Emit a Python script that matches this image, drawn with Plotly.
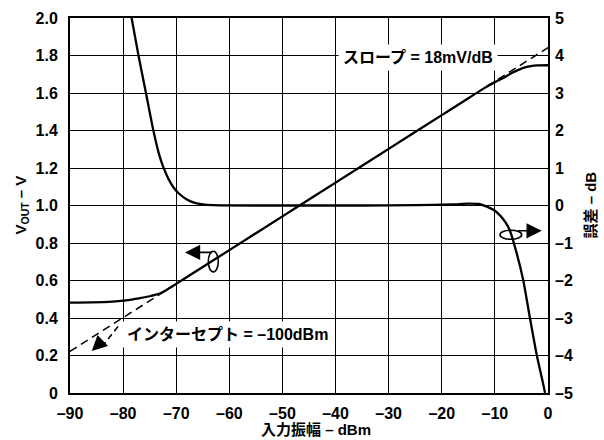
import plotly.graph_objects as go

# Input level (dBm) and measured output voltage (V)
VOUT_DBM = [-90, -86, -82, -79, -77, -75, -74, -73, -72, -70, -65, -60, -50, -40, -30,
            -20, -15, -12, -10, -9, -8, -7, -6, -5, -4, -3, -2, 0]
VOUT_V = [0.482, 0.483, 0.487, 0.495, 0.505, 0.516, 0.523, 0.532, 0.547, 0.582, 0.672,
          0.762, 0.942, 1.122, 1.302, 1.482, 1.572, 1.626, 1.658, 1.672, 1.687, 1.704,
          1.718, 1.730, 1.739, 1.745, 1.747, 1.748]

# Ideal transfer line (18 mV/dB)
IDEAL_DBM = [-90, 0]
IDEAL_V = [0.222, 1.842]

# Log-conformance error (dB)
ERR_DBM = [-79.0, -78.4, -77.1, -75.7, -74.3, -73.2, -72.5, -71.5, -70.5, -69.5, -68,
           -66.5, -65, -63, -55, -45, -35, -25, -18, -15, -13, -11.5, -10, -9, -8,
           -7.2, -5.9, -4.65, -3.4, -2.1, -0.56, -0.3]
ERR_DB = [5.45, 5.0, 4.0, 3.0, 2.0, 1.35, 1.05, 0.72, 0.48, 0.32, 0.16, 0.07, 0.03,
          0.01, 0.0, 0.0, 0.0, 0.01, 0.03, 0.05, 0.04, -0.03, -0.14, -0.27, -0.45,
          -0.66, -1.27, -2.0, -3.0, -4.0, -5.0, -5.4]

X_TICKS = [-90, -80, -70, -60, -50, -40, -30, -20, -10, 0]
X_TICK_TEXT = ["–90", "–80", "–70", "–60", "–50", "–40", "–30", "–20", "–10", "0"]
Y_TICKS = [0, 0.2, 0.4, 0.6, 0.8, 1.0, 1.2, 1.4, 1.6, 1.8, 2.0]
Y_TICK_TEXT = ["0", "0.2", "0.4", "0.6", "0.8", "1.0", "1.2", "1.4", "1.6", "1.8", "2.0"]
Y2_TICKS = [-5, -4, -3, -2, -1, 0, 1, 2, 3, 4, 5]
Y2_TICK_TEXT = ["–5", "–4", "–3", "–2", "–1", "0", "1", "2", "3", "4", "5"]

FONT = "Liberation Sans, Arial, Noto Sans CJK JP, sans-serif"
INK = "#000000"

fig = go.Figure()

fig.add_trace(go.Scatter(x=IDEAL_DBM, y=IDEAL_V, mode="lines",
                         line=dict(color=INK, width=1.5, dash="8px,5px"),
                         hoverinfo="skip", showlegend=False))
fig.add_trace(go.Scatter(x=VOUT_DBM, y=VOUT_V, mode="lines",
                         line=dict(color=INK, width=2.3, shape="spline", smoothing=0.8),
                         showlegend=False))
fig.add_trace(go.Scatter(x=ERR_DBM, y=ERR_DB, mode="lines", yaxis="y2",
                         line=dict(color=INK, width=2.3, shape="spline", smoothing=0.6),
                         showlegend=False))

# dashed leader from the intercept label toward the intercept arrowhead
fig.add_trace(go.Scatter(x=[-80.96, -84.0], y=[0.355, 0.245], mode="lines",
                         line=dict(color=INK, width=1.6, dash="6px,4px"),
                         hoverinfo="skip", showlegend=False))

tick_font = dict(family=FONT, size=16, color=INK, weight="bold")
axis_common = dict(showgrid=True, gridcolor=INK, gridwidth=1.3, zeroline=False,
                   showline=True, linecolor=INK, linewidth=2, mirror=True,
                   ticks="", tickfont=tick_font)

fig.update_layout(
    width=604, height=440,
    margin=dict(l=70, r=56, t=10, b=47),
    paper_bgcolor="white", plot_bgcolor="white",
    font=dict(family=FONT, size=15, color=INK, weight="bold"),
    xaxis=dict(range=[-90, 0], tickvals=X_TICKS, ticktext=X_TICK_TEXT,
               ticklabelstandoff=5, **axis_common),
    yaxis=dict(range=[0, 2.0], tickvals=Y_TICKS, ticktext=Y_TICK_TEXT,
               ticklabelstandoff=7, **axis_common),
    yaxis2=dict(range=[-5, 5], tickvals=Y2_TICKS, ticktext=Y2_TICK_TEXT,
                overlaying="y", side="right", showgrid=False, zeroline=False,
                showline=False, ticks="", ticklabelstandoff=6, tickfont=tick_font),
)

# reference markers: ellipses around the curves
fig.add_shape(type="circle", xref="x", yref="y", x0=-63.96, x1=-62.08, y0=0.646, y1=0.756,
              line=dict(color=INK, width=1.6))
fig.add_shape(type="circle", xref="x", yref="y", x0=-9.04, x1=-4.96, y0=0.820, y1=0.868,
              line=dict(color=INK, width=1.6))

arrow = dict(showarrow=True, arrowhead=2, arrowsize=1.9, arrowwidth=1.6, arrowcolor=INK,
             text="", standoff=0, startstandoff=0)
# left-axis indicator
fig.add_annotation(x=-68.35, y=0.750, ax=-63.0, ay=0.750, axref="x", ayref="y",
                   xref="x", yref="y", **arrow)
# right-axis indicator
fig.add_annotation(x=-1.19, y=0.865, ax=-5.9, ay=0.865, axref="x", ayref="y",
                   xref="x", yref="y", **arrow)
# intercept arrowhead
fig.add_annotation(x=-85.9, y=0.2245, ax=11, ay=-10.5, xref="x", yref="y", **arrow)

label_font = dict(family=FONT, size=16, color=INK, weight="bold")
fig.add_annotation(x=-24.5, y=1.791, xref="x", yref="y", text="スロープ = 18mV/dB",
                   showarrow=False, bgcolor="white", borderpad=4, font=label_font)
fig.add_annotation(x=-60.44, y=0.313, xref="x", yref="y", text="インターセプト = –100dBm",
                   showarrow=False, bgcolor="white", borderpad=4, font=label_font)

# axis titles
title_font = dict(family=FONT, size=15, color=INK, weight="bold")
fig.add_annotation(x=-0.1025, y=0.5, xref="paper", yref="paper", text="V<sub>OUT</sub> – V",
                   textangle=-90, showarrow=False, xanchor="center", yanchor="middle",
                   font=title_font)
fig.add_annotation(x=1.0879, y=0.5, xref="paper", yref="paper", text="誤差 – dB",
                   textangle=-90, showarrow=False, xanchor="center", yanchor="middle",
                   font=title_font)
fig.add_annotation(x=0.5146, y=-0.0966, xref="paper", yref="paper", text="入力振幅 – dBm",
                   showarrow=False, xanchor="center", yanchor="middle", font=title_font)

fig.write_html("out.html")
